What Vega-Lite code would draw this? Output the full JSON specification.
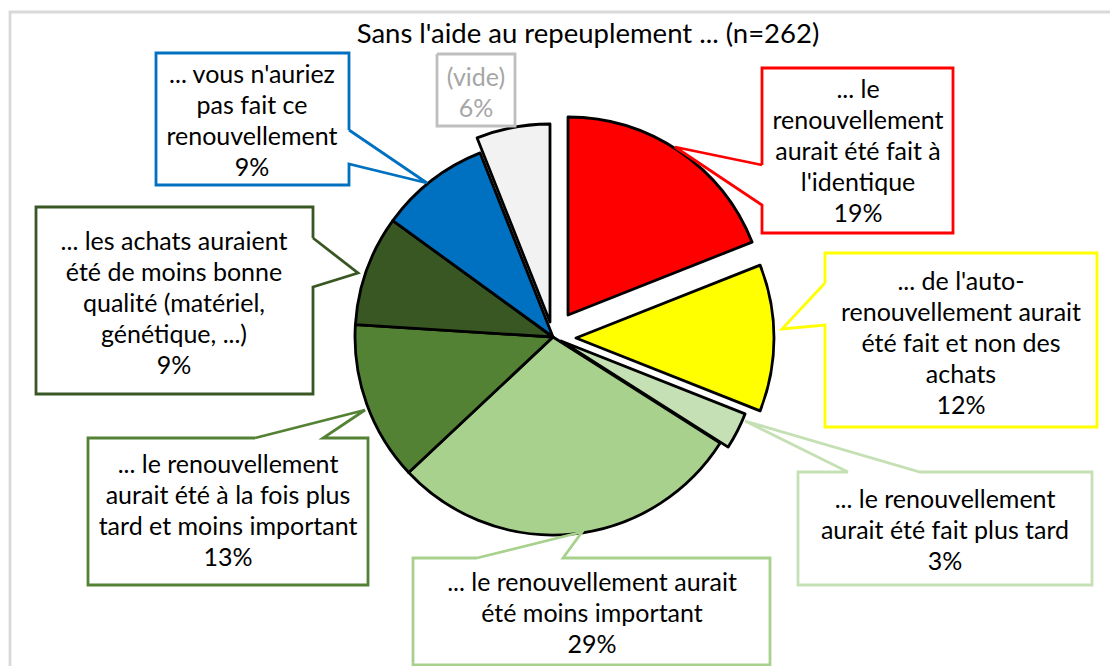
{
  "$schema": "https://vega.github.io/schema/vega-lite/v6.json",
  "width": 1110,
  "height": 666,
  "padding": 0,
  "autosize": {"type": "none"},
  "background": "white",
  "config": {"view": {"stroke": null}, "font": "Lato"},
  "title": {
    "text": "Sans l'aide au repeuplement ... (n=262)",
    "anchor": "middle",
    "offset": -62,
    "baseline": "middle",
    "dx": 33,
    "font": "Lato",
    "fontSize": 27.5,
    "fontWeight": "normal",
    "color": "#000000"
  },
  "datasets": {
    "slices": [
      {"cat": "identique", "label": "... le renouvellement aurait été fait à l'identique", "value": 19, "o": 1},
      {"cat": "auto", "label": "... de l'auto-renouvellement aurait été fait et non des achats", "value": 12, "o": 2},
      {"cat": "plus_tard", "label": "... le renouvellement aurait été fait plus tard", "value": 3, "o": 3},
      {"cat": "moins_important", "label": "... le renouvellement aurait été moins important", "value": 29, "o": 4},
      {"cat": "fois", "label": "... le renouvellement aurait été à la fois plus tard et moins important", "value": 13, "o": 5},
      {"cat": "qualite", "label": "... les achats auraient été de moins bonne qualité (matériel, génétique, ...)", "value": 9, "o": 6},
      {"cat": "pas_fait", "label": "... vous n'auriez pas fait ce renouvellement", "value": 9, "o": 7},
      {"cat": "vide", "label": "(vide)", "value": 6, "o": 8}
    ],
    "outlines": [
      {"cat": "identique", "o": 1, "x": 762, "y": 165},
      {"cat": "identique", "o": 2, "x": 762, "y": 68},
      {"cat": "identique", "o": 3, "x": 953, "y": 68},
      {"cat": "identique", "o": 4, "x": 953, "y": 233},
      {"cat": "identique", "o": 5, "x": 762, "y": 233},
      {"cat": "identique", "o": 6, "x": 762, "y": 205},
      {"cat": "identique", "o": 7, "x": 675, "y": 147},
      {"cat": "identique", "o": 8, "x": 762, "y": 165},
      {"cat": "auto", "o": 1, "x": 825, "y": 283},
      {"cat": "auto", "o": 2, "x": 825, "y": 253},
      {"cat": "auto", "o": 3, "x": 1097, "y": 253},
      {"cat": "auto", "o": 4, "x": 1097, "y": 427},
      {"cat": "auto", "o": 5, "x": 825, "y": 427},
      {"cat": "auto", "o": 6, "x": 825, "y": 325},
      {"cat": "auto", "o": 7, "x": 782, "y": 329},
      {"cat": "auto", "o": 8, "x": 825, "y": 283},
      {"cat": "plus_tard", "o": 1, "x": 848, "y": 472},
      {"cat": "plus_tard", "o": 2, "x": 798, "y": 472},
      {"cat": "plus_tard", "o": 3, "x": 798, "y": 585},
      {"cat": "plus_tard", "o": 4, "x": 1092, "y": 585},
      {"cat": "plus_tard", "o": 5, "x": 1092, "y": 472},
      {"cat": "plus_tard", "o": 6, "x": 920, "y": 472},
      {"cat": "plus_tard", "o": 7, "x": 745, "y": 421},
      {"cat": "plus_tard", "o": 8, "x": 848, "y": 472},
      {"cat": "moins_important", "o": 1, "x": 477, "y": 558},
      {"cat": "moins_important", "o": 2, "x": 413, "y": 558},
      {"cat": "moins_important", "o": 3, "x": 413, "y": 665},
      {"cat": "moins_important", "o": 4, "x": 770, "y": 665},
      {"cat": "moins_important", "o": 5, "x": 770, "y": 558},
      {"cat": "moins_important", "o": 6, "x": 563, "y": 558},
      {"cat": "moins_important", "o": 7, "x": 582, "y": 532},
      {"cat": "moins_important", "o": 8, "x": 477, "y": 558},
      {"cat": "fois", "o": 1, "x": 255, "y": 438},
      {"cat": "fois", "o": 2, "x": 88, "y": 438},
      {"cat": "fois", "o": 3, "x": 88, "y": 585},
      {"cat": "fois", "o": 4, "x": 368, "y": 585},
      {"cat": "fois", "o": 5, "x": 368, "y": 438},
      {"cat": "fois", "o": 6, "x": 323, "y": 438},
      {"cat": "fois", "o": 7, "x": 365, "y": 410},
      {"cat": "fois", "o": 8, "x": 255, "y": 438},
      {"cat": "qualite", "o": 1, "x": 313, "y": 238},
      {"cat": "qualite", "o": 2, "x": 313, "y": 207},
      {"cat": "qualite", "o": 3, "x": 36, "y": 207},
      {"cat": "qualite", "o": 4, "x": 36, "y": 394},
      {"cat": "qualite", "o": 5, "x": 313, "y": 394},
      {"cat": "qualite", "o": 6, "x": 313, "y": 287},
      {"cat": "qualite", "o": 7, "x": 358, "y": 273},
      {"cat": "qualite", "o": 8, "x": 313, "y": 238},
      {"cat": "pas_fait", "o": 1, "x": 349, "y": 130},
      {"cat": "pas_fait", "o": 2, "x": 349, "y": 53},
      {"cat": "pas_fait", "o": 3, "x": 156, "y": 53},
      {"cat": "pas_fait", "o": 4, "x": 156, "y": 185},
      {"cat": "pas_fait", "o": 5, "x": 349, "y": 185},
      {"cat": "pas_fait", "o": 6, "x": 349, "y": 164},
      {"cat": "pas_fait", "o": 7, "x": 427, "y": 183},
      {"cat": "pas_fait", "o": 8, "x": 349, "y": 130},
      {"cat": "vide", "o": 1, "x": 437, "y": 54},
      {"cat": "vide", "o": 2, "x": 515, "y": 54},
      {"cat": "vide", "o": 3, "x": 515, "y": 126},
      {"cat": "vide", "o": 4, "x": 437, "y": 126},
      {"cat": "vide", "o": 5, "x": 437, "y": 54},
      {"cat": "frame", "o": 1, "x": 10, "y": 700},
      {"cat": "frame", "o": 2, "x": 10, "y": 12},
      {"cat": "frame", "o": 3, "x": 1200, "y": 12}
    ],
    "labels": [
      {"cat": "identique", "text": "... le\nrenouvellement\naurait été fait à\nl'identique\n19%", "x": 858, "y": 90},
      {"cat": "auto", "text": "... de l'auto-\nrenouvellement  aurait\nété fait et non des\nachats\n12%", "x": 961, "y": 282},
      {"cat": "plus_tard", "text": "... le renouvellement\naurait été fait plus tard\n3%", "x": 945, "y": 500},
      {"cat": "moins_important", "text": "... le renouvellement  aurait\nété moins important\n29%", "x": 592, "y": 583},
      {"cat": "fois", "text": "... le renouvellement\naurait été à la fois plus\ntard et moins important\n13%", "x": 228, "y": 465},
      {"cat": "qualite", "text": "... les achats auraient\nété de moins bonne\nqualité (matériel,\ngénétique, ...)\n9%", "x": 174, "y": 242},
      {"cat": "pas_fait", "text": "... vous n'auriez\npas fait ce\nrenouvellement\n9%", "x": 252, "y": 75},
      {"cat": "vide", "text": "(vide)\n6%", "x": 476, "y": 78}
    ]
  },
  "layer": [
    {
      "data": {"name": "slices"},
      "transform": [
        {"stack": "value", "groupby": [], "sort": [{"field": "o", "order": "ascending"}], "as": ["v0", "v1"]}
      ],
      "encoding": {
        "theta": {"field": "v0", "type": "quantitative", "scale": {"domain": [0, 100], "nice": false, "zero": false}},
        "theta2": {"field": "v1"},
        "fill": {
          "field": "cat",
          "type": "nominal",
          "scale": {
            "domain": ["identique", "auto", "plus_tard", "moins_important", "fois", "qualite", "pas_fait", "vide"],
            "range": ["#FF0000", "#FFFF00", "#C5E0B4", "#A9D18E", "#548235", "#385723", "#0070C0", "#F2F2F2"]
          },
          "legend": null
        },
        "x": {"datum": 553, "type": "quantitative", "scale": {"domain": [0, 1110], "nice": false, "zero": false}, "axis": null},
        "y": {"datum": 337, "type": "quantitative", "scale": {"domain": [0, 666], "nice": false, "zero": false, "reverse": true}, "axis": null}
      },
      "layer": [
        {
          "transform": [{"filter": {"field": "cat", "oneOf": ["moins_important", "fois", "qualite", "pas_fait"]}}],
          "mark": {"type": "arc", "outerRadius": 198, "stroke": "#000000", "strokeWidth": 2.8, "strokeJoin": "round"}
        },
        {
          "transform": [{"filter": {"field": "cat", "equal": "identique"}}],
          "mark": {"type": "arc", "outerRadius": 198, "stroke": "#000000", "strokeWidth": 2.8, "strokeJoin": "round", "xOffset": 15, "yOffset": -22}
        },
        {
          "transform": [{"filter": {"field": "cat", "equal": "auto"}}],
          "mark": {"type": "arc", "outerRadius": 198, "stroke": "#000000", "strokeWidth": 2.8, "strokeJoin": "round", "xOffset": 23, "yOffset": 1}
        },
        {
          "transform": [{"filter": {"field": "cat", "equal": "plus_tard"}}],
          "mark": {"type": "arc", "outerRadius": 198, "stroke": "#000000", "strokeWidth": 2.8, "strokeJoin": "round", "xOffset": 8, "yOffset": 4}
        },
        {
          "transform": [{"filter": {"field": "cat", "equal": "vide"}}],
          "mark": {"type": "arc", "outerRadius": 198, "stroke": "#000000", "strokeWidth": 2.8, "strokeJoin": "round", "xOffset": -3, "yOffset": -15}
        }
      ]
    },
    {
      "data": {"name": "outlines"},
      "mark": {"type": "line", "strokeWidth": 2.8, "strokeJoin": "miter", "interpolate": "linear"},
      "encoding": {
        "x": {"field": "x", "type": "quantitative", "scale": {"domain": [0, 1110], "nice": false, "zero": false}, "axis": null},
        "y": {"field": "y", "type": "quantitative", "scale": {"domain": [0, 666], "nice": false, "zero": false, "reverse": true}, "axis": null},
        "stroke": {
          "field": "cat",
          "type": "nominal",
          "scale": {
            "domain": ["identique", "auto", "plus_tard", "moins_important", "fois", "qualite", "pas_fait", "vide", "frame"],
            "range": ["#FF0000", "#FFFF00", "#C5E0B4", "#A9D18E", "#548235", "#385723", "#0070C0", "#BFBFBF", "#D9D9D9"]
          },
          "legend": null
        },
        "order": {"field": "o", "type": "quantitative"}
      }
    },
    {
      "data": {"name": "labels"},
      "mark": {"type": "text", "font": "Lato", "fontSize": 25, "lineHeight": 31, "lineBreak": "\n", "align": "center", "baseline": "middle"},
      "encoding": {
        "x": {"field": "x", "type": "quantitative", "scale": {"domain": [0, 1110], "nice": false, "zero": false}, "axis": null},
        "y": {"field": "y", "type": "quantitative", "scale": {"domain": [0, 666], "nice": false, "zero": false, "reverse": true}, "axis": null},
        "text": {"field": "text", "type": "nominal"},
        "color": {"condition": {"test": "datum.cat === 'vide'", "value": "#A6A6A6"}, "value": "#000000"}
      }
    }
  ]
}
